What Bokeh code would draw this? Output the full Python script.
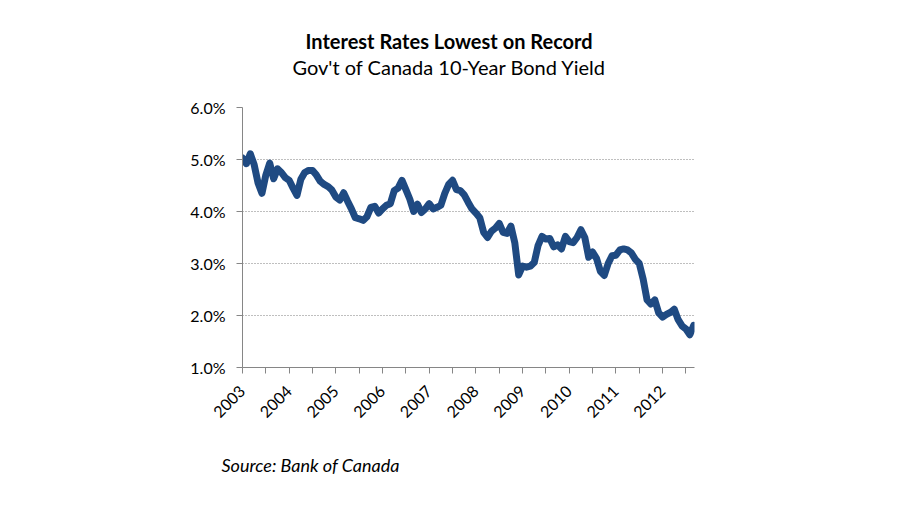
import numpy as np
from math import pi
from bokeh.plotting import figure
from bokeh.models import Range1d, FixedTicker, Title
from bokeh.embed import file_html
from bokeh.resources import INLINE

title_text = "Interest Rates Lowest on Record"
subtitle_text = "Gov't of Canada 10-Year Bond Yield"
source_text = "Source: Bank of Canada"

years = [str(y) for y in range(2003, 2013)]
y_ticks = [1, 2, 3, 4, 5, 6]

# monthly 10-year yield (%) Jan 2003 .. Sep 2012
yields = [
    5.03, 4.92, 5.11, 4.90, 4.55, 4.35, 4.70, 4.93, 4.63, 4.82, 4.75, 4.65,   # 2003
    4.60, 4.45, 4.31, 4.62, 4.75, 4.79, 4.79, 4.70, 4.58, 4.52, 4.48, 4.41,   # 2004
    4.28, 4.22, 4.36, 4.20, 4.05, 3.88, 3.86, 3.83, 3.90, 4.08, 4.10, 3.97,   # 2005
    4.05, 4.12, 4.15, 4.40, 4.45, 4.60, 4.42, 4.24, 4.00, 4.14, 3.98, 4.05,   # 2006
    4.15, 4.05, 4.08, 4.12, 4.35, 4.52, 4.60, 4.42, 4.40, 4.32, 4.18, 4.05,   # 2007
    3.97, 3.88, 3.60, 3.50, 3.62, 3.68, 3.77, 3.60, 3.58, 3.72, 3.40, 2.78,   # 2008
    2.95, 2.93, 2.95, 3.02, 3.35, 3.52, 3.47, 3.48, 3.32, 3.36, 3.28, 3.52,   # 2009
    3.42, 3.40, 3.50, 3.65, 3.50, 3.12, 3.22, 3.10, 2.85, 2.77, 3.00, 3.15,   # 2010
    3.16, 3.26, 3.28, 3.26, 3.20, 3.08, 3.00, 2.70, 2.30, 2.22, 2.30, 2.05,   # 2011
    1.97, 2.02, 2.06, 2.12, 1.92, 1.80, 1.74, 1.63, 1.81,                     # 2012
]

x = np.arange(len(yields))

p = figure(width=884, height=504, output_backend="svg", toolbar_location=None,
           title=None,
           x_range=Range1d(0, 116.2), y_range=Range1d(1, 6),
           min_border_left=242, min_border_right=190,
           min_border_top=107, min_border_bottom=137)
p.outline_line_color = None
p.background_fill_color = "white"
p.border_fill_color = "white"

p.line(x, yields, line_color="#1f4a82", line_width=7, line_join="round", line_cap="round")

# axes
font = "Lato"
p.yaxis.ticker = FixedTicker(ticks=y_ticks)
p.yaxis.major_label_overrides = {t: f"{t:.1f}%" for t in y_ticks}
xt = list(range(0, len(yields), 6))
p.xaxis.ticker = FixedTicker(ticks=xt)
p.xaxis.major_label_overrides = {t: (years[t // 12] if t % 12 == 0 else "") for t in xt}
p.xaxis.major_label_orientation = pi / 4

for ax in (p.xaxis, p.yaxis):
    ax.axis_line_color = "#868686"
    ax.major_tick_line_color = "#868686"
    ax.minor_tick_line_color = None
    ax.major_tick_in = 0
    ax.major_tick_out = 6
    ax.major_label_text_font = font
    ax.major_label_text_color = "#000000"
p.yaxis.major_label_text_font_size = "16px"
p.yaxis.major_label_standoff = 11
p.xaxis.major_label_text_font_size = "16px"
p.xaxis.major_label_standoff = 15

p.xgrid.visible = False
p.ygrid.grid_line_color = "#7f7f7f"
p.ygrid.grid_line_dash = "1 2"
p.ygrid.grid_line_width = 1

sub = Title(text=subtitle_text, align="left", offset=50, standoff=58,
            text_font=font, text_font_size="20px", text_font_style="normal",
            text_color="#000000")
ttl = Title(text=title_text, align="left", offset=63, standoff=-58,
            text_font=font, text_font_size="20px", text_font_style="bold",
            text_color="#000000")
src = Title(text=source_text, align="left", offset=-21, standoff=52,
            text_font=font, text_font_size="18px", text_font_style="italic",
            text_color="#000000")
p.add_layout(sub, "above")
p.add_layout(ttl, "above")
p.add_layout(src, "below")

open("out.html", "w").write(file_html(p, INLINE))
